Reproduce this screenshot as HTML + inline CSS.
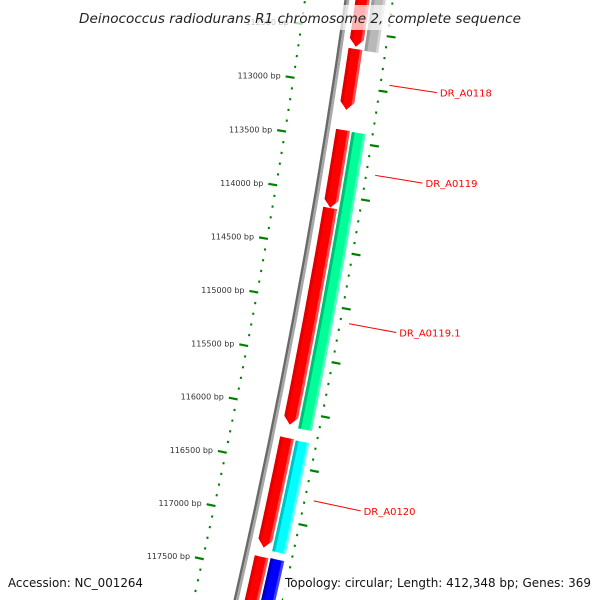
<!DOCTYPE html>
<html><head><meta charset="utf-8"><style>
html,body{margin:0;padding:0;background:#fff;width:600px;height:600px;overflow:hidden}
svg{display:block;overflow:hidden}
text{font-family:"DejaVu Sans","Liberation Sans",sans-serif}
</style></head><body>
<svg id="map" width="600" height="600" viewBox="0 0 600 600" xmlns="http://www.w3.org/2000/svg">
<defs id="defs"></defs>
<g id="rulers"></g>
<g id="backbone"></g>
<g id="features"></g>
<g id="labels"></g>
<rect x="74" y="5" width="452" height="25" fill="#fff" fill-opacity="0.7"/>
<text x="300" y="23" text-anchor="middle" font-size="13" font-style="italic" fill="#222" textLength="442" lengthAdjust="spacingAndGlyphs">Deinococcus radiodurans R1 chromosome 2, complete sequence</text>
<rect x="4" y="572" width="142" height="28" fill="#fff" fill-opacity="0.85"/>
<text x="8" y="587" font-size="12" fill="#111" textLength="135" lengthAdjust="spacingAndGlyphs">Accession: NC_001264</text>
<rect x="283" y="572" width="317" height="28" fill="#fff" fill-opacity="0.85"/>
<text x="591" y="587" font-size="12" fill="#111" text-anchor="end" textLength="306" lengthAdjust="spacingAndGlyphs">Topology: circular; Length: 412,348 bp; Genes: 369</text>
</svg>
<script>
// ---- data ----
const featStart = [111800, 112656, 113403, 114123, 116254, 117362, 111800, 113408, 116261, 117357];
const featEnd   = [112638, 113219, 114123, 116134, 117278, 118500, 112662, 116150, 117292, 118500];
const featTrack = [0, 0, 0, 0, 0, 0, 1, 1, 1, 1];
const featColor = ["red","red","red","red","red","red","gray","green","cyan","blue"];
const featArrow = [1, 1, 1, 1, 1, 1, 0, 0, 0, 0];
const labelText = ["", "DR_A0118", "DR_A0119", "DR_A0119.1", "DR_A0120", "", "", "", "", ""];
const rulerStart = 111500, rulerEnd = 119000, minorStep = 100, majorStep = 500;
const genomeLength = 412348;

// ---- geometry ----
const NS = "http://www.w3.org/2000/svg";
const cx = -6770, cy = -1005, A0 = 10.46 * Math.PI / 180, BP0 = 115000;
const trackR = [[7196, 7210], [7212, 7226]];
const palette = {
  red:   {main:"#ff0000", dark:"#e00000", light:"#ff5050"},
  gray:  {main:"#b8b8b8", dark:"#9a9a9a", light:"#d4d4d4"},
  green: {main:"#00ff99", dark:"#00c077", light:"#50ffb8"},
  cyan:  {main:"#00ffff", dark:"#00c4c4", light:"#60ffff"},
  blue:  {main:"#0000ff", dark:"#0000c0", light:"#4040ff"}
};
function ang(bp){ return A0 + (bp - BP0) * 2 * Math.PI / genomeLength; }
function pt(r, a){ return [cx + r * Math.cos(a), cy + r * Math.sin(a)]; }
function P(p){ return p[0].toFixed(2) + " " + p[1].toFixed(2); }
function sector(r1, r2, a1, a2){
  return "M" + P(pt(r2,a1)) + " A" + r2 + " " + r2 + " 0 0 1 " + P(pt(r2,a2)) +
         " L" + P(pt(r1,a2)) + " A" + r1 + " " + r1 + " 0 0 0 " + P(pt(r1,a1)) + " Z";
}
function arrowShape(r1, r2, a1, a2, head){
  const rm = (r1 + r2) / 2, ah = a2 - head / rm;
  return "M" + P(pt(r2,a1)) + " A" + r2 + " " + r2 + " 0 0 1 " + P(pt(r2,ah)) +
         " L" + P(pt(rm,a2)) + " L" + P(pt(r1,ah)) +
         " A" + r1 + " " + r1 + " 0 0 0 " + P(pt(r1,a1)) + " Z";
}
function mk(tag, attrs, parent){
  const e = document.createElementNS(NS, tag);
  for (const k in attrs) e.setAttribute(k, attrs[k]);
  parent.appendChild(e); return e;
}

// ---- backbone ----
const bb = document.getElementById("backbone");
const aS = ang(rulerStart), aE = ang(rulerEnd);
const bb1 = mk("path", {d: sector(7185, 7187.5, aS, aE), fill: "#6a6a6a"}, bb);


const bb2 = mk("path", {d: sector(7187.5, 7190, aS, aE), fill: "#a8a8a8"}, bb);



// ---- rulers ----
const rul = document.getElementById("rulers");
const rL = 7146, rR = 7233;
for (let bp = rulerStart; bp <= rulerEnd; bp += minorStep){
  const a = ang(bp), major = (bp % majorStep === 0);
  let p1 = major ? pt(rL - 8, a) : pt(rL - 1, a), p2 = pt(rL + 1, a);
  const t1 = mk("line", {x1:p1[0], y1:p1[1], x2:p2[0], y2:p2[1], stroke:"#008000", "stroke-width": 2.2}, rul);
  
  
  p1 = pt(rR - 1, a); p2 = major ? pt(rR + 8, a) : pt(rR + 1, a);
  const t2 = mk("line", {x1:p1[0], y1:p1[1], x2:p2[0], y2:p2[1], stroke:"#008000", "stroke-width": 2.2}, rul);
  
  
  if (major){
    const lp = pt(rL - 13, a);
    const tx = mk("text", {x: lp[0].toFixed(1), y: (lp[1] + 3).toFixed(1), "font-size": 8, fill: "#333", "text-anchor": "end"}, rul);
    tx.textContent = bp + " bp";
    
    
  }
}

// ---- features ----
const fg = document.getElementById("features");
const defs = document.getElementById("defs");
for (let i = 0; i < featStart.length; i++){
  const [r1, r2] = trackR[featTrack[i]];
  const a1 = ang(featStart[i]), a2 = ang(featEnd[i]);
  const d = featArrow[i] ? arrowShape(r1, r2, a1, a2, 8) : sector(r1, r2, a1, a2);
  const c = palette[featColor[i]];
  const cp = mk("clipPath", {id: "clip" + i}, defs);
  mk("path", {d: d}, cp);
  const g = mk("g", {"clip-path": "url(#clip" + i + ")"}, fg);
  
  
  mk("path", {d: d, fill: c.main}, g);
  mk("path", {d: sector(r1 - 1, r1 + 3, a1 - 0.01, a2 + 0.01), fill: c.dark}, g);
  mk("path", {d: sector(r2 - 2.5, r2 + 1, a1 - 0.01, a2 + 0.01), fill: c.light}, g);
}

// ---- labels ----
const lg = document.getElementById("labels");
for (let i = 0; i < featStart.length; i++){
  if (!labelText[i]) continue;
  const a = ang((featStart[i] + featEnd[i]) / 2);
  const p1 = pt(7242, a), p2 = pt(7290, a), p3 = pt(7293, a);
  const ln = mk("line", {x1:p1[0], y1:p1[1], x2:p2[0], y2:p2[1], stroke:"#ff0000", "stroke-width": 1}, lg);
  
  
  const tx = mk("text", {x: p3[0].toFixed(1), y: (p3[1] + 3.5).toFixed(1), "font-size": 10, fill: "#ff0000"}, lg);
  tx.textContent = labelText[i];
  
  
}
</script>
</body></html>
